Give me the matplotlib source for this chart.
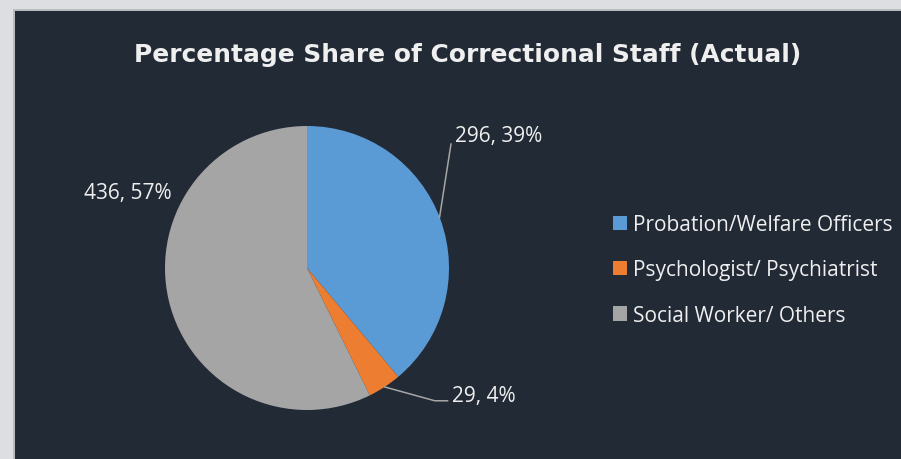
import matplotlib.pyplot as plt
import matplotlib.patches as mpatches
import numpy as np

# Chart data
categories = ["Probation/Welfare Officers", "Psychologist/ Psychiatrist", "Social Worker/ Others"]
staff_counts = [296, 29, 436]
colors = ["#5B9BD5", "#ED7D31", "#A5A5A5"]

title = "Percentage Share of Correctional Staff (Actual)"
panel_color = "#222A35"
text_color = "#EFEFEF"

W, H = 901, 460
fig = plt.figure(figsize=(W / 100, H / 100), dpi=100)
fig.patch.set_facecolor("#DCDEE2")

# Dark chart panel (with a faint shadow)
fig.patches.append(mpatches.Rectangle((13 / W, 0), 1, 1 - 10 / H, transform=fig.transFigure,
                                      facecolor="#B8BBC0", edgecolor="none", zorder=-2))
fig.patches.append(mpatches.Rectangle((15 / W, 0), 1, 1 - 12 / H, transform=fig.transFigure,
                                      facecolor=panel_color, edgecolor="none", zorder=-1))

fig.text(468 / W, 1 - 55 / H, title, ha="center", va="center", color=text_color,
         fontsize=17.9, fontweight="bold", family="DejaVu Sans")

# Pie axes: centre (307, 269), radius 142 px
cx, cy, r = 307, 269, 142
ax = fig.add_axes([(cx - r) / W, (H - cy - r) / H, 2 * r / W, 2 * r / H])
ax.set_facecolor("none")
wedges, _ = ax.pie(staff_counts, colors=colors, startangle=90, counterclock=False,
                   wedgeprops=dict(linewidth=0))
ax.set_xlim(-1, 1)
ax.set_ylim(-1, 1)
ax.set_aspect("equal")
ax.axis("off")

total = sum(staff_counts)
labels = [f"{v}, {round(100 * v / total)}%" for v in staff_counts]

# label text positions (pie data units)
label_pos = [(1.04, 0.93), (1.02, -0.90), (-0.95, 0.535)]
label_ha = ["left", "left", "right"]
for w, lab, pos, ha in zip(wedges, labels, label_pos, label_ha):
    ax.text(pos[0], pos[1], lab, ha=ha, va="center", color=text_color,
            fontsize=15, family="Open Sans", clip_on=False)

# leader lines from wedge edge
ang0 = np.deg2rad(21)
ax.plot([np.cos(ang0), 1.014], [np.sin(ang0), 0.873], color="#A6A6A6", lw=1.1, clip_on=False)
mid1 = np.deg2rad((wedges[1].theta1 + wedges[1].theta2) / 2)
ax.plot([np.cos(mid1), 0.90, 0.99], [np.sin(mid1), -0.935, -0.935],
        color="#A6A6A6", lw=1.1, clip_on=False)

handles = [mpatches.Patch(facecolor=c, edgecolor="none") for c in colors]
leg = fig.legend(handles, categories, loc="center left", bbox_to_anchor=(613 / W, 1 - 271 / H),
                 frameon=False, borderpad=0, borderaxespad=0,
                 handlelength=0.68, handleheight=0.68, handletextpad=0.3,
                 labelspacing=1.16, prop={"family": "Open Sans", "size": 15})
for t in leg.get_texts():
    t.set_color(text_color)

fig.savefig("out.png", dpi=100, facecolor=fig.get_facecolor())
